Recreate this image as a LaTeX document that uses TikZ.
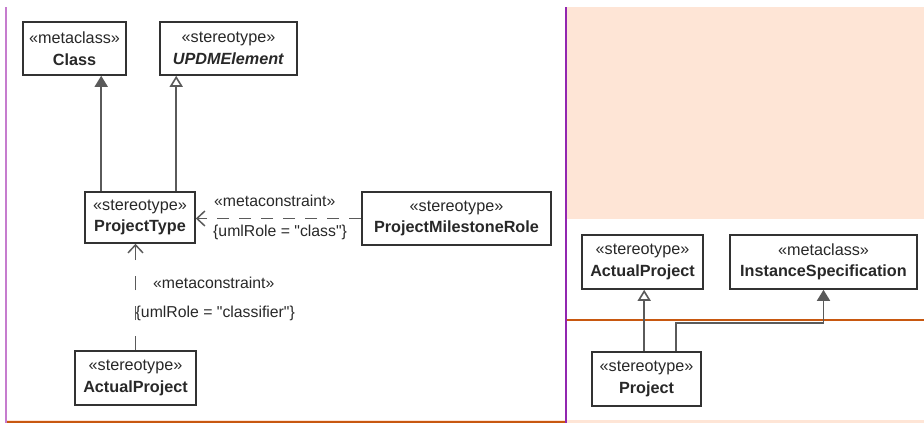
\documentclass[tikz,border=0pt]{standalone}
\usepackage{fontspec}
\setmainfont{Liberation Sans}
\usetikzlibrary{arrows.meta}

\definecolor{peach}{RGB}{254,229,214}
\definecolor{framelilac}{RGB}{198,124,206}
\definecolor{framepurple}{RGB}{146,38,176}
\definecolor{rust}{RGB}{200,88,16}
\definecolor{boxline}{RGB}{50,50,50}
\definecolor{wire}{RGB}{90,90,90}
\definecolor{stxt}{RGB}{40,40,40}

\tikzset{
  umlbox/.style={draw=boxline, line width=1.6pt, fill=white, align=center,
    inner sep=0pt, text=stxt, font=\fontsize{16.2}{21.5}\selectfont},
  lbl/.style={inner sep=0pt, text=stxt, font=\fontsize{15.8}{18}\selectfont},
  genopen/.style={draw=wire, line width=1.6pt,
    -{Triangle[open, length=11pt, width=13pt, fill=white]}},
  genfill/.style={draw=wire, line width=1.6pt,
    -{Triangle[length=11pt, width=13pt]}},
  depline/.style={draw=wire, line width=1.5pt,
    -{Straight Barb[length=8pt, width=15pt]}},
}

\begin{document}
\begin{tikzpicture}[x=1pt, y=-1pt]
\useasboundingbox (0,0) rectangle (924,423);

% panel backgrounds and frames
\fill[peach] (567,7) rectangle (924,219);
\fill[peach] (6,419.5) rectangle (924,423);
\draw[rust, line width=2pt] (6,422) -- (566,422);
\draw[rust, line width=2pt] (567,319.5) -- (924,319.5);
\draw[framelilac, line width=2pt] (6,7) -- (6,423);
\draw[framepurple, line width=2pt] (566,7) -- (566,423);

% left panel classes
\node[umlbox, minimum width=103, minimum height=53] (cls) at (74.5,48.5)
  {«metaclass»\\\textbf{Class}};
\node[umlbox, minimum width=137, minimum height=53] (updm) at (228.5,48.5)
  {«stereotype»\\\textbf{\textit{UPDMElement}}};
\node[umlbox, minimum width=110, minimum height=51] (ptype) at (140,217.5)
  {«stereotype»\\\textbf{ProjectType}};
\node[umlbox, minimum width=189, minimum height=53] (pmr) at (456.5,218.5)
  {«stereotype»\\\textbf{ProjectMilestoneRole}};
\node[umlbox, minimum width=121, minimum height=54] (apl) at (135.5,378)
  {«stereotype»\\\textbf{ActualProject}};

% right panel classes
\node[umlbox, minimum width=121, minimum height=54] (apr) at (642.5,262)
  {«stereotype»\\\textbf{ActualProject}};
\node[umlbox, minimum width=187, minimum height=54] (inst) at (823.5,262)
  {«metaclass»\\\textbf{InstanceSpecification}};
\node[umlbox, minimum width=109, minimum height=54] (proj) at (646.5,379)
  {«stereotype»\\\textbf{Project}};

% generalizations and extensions
\draw[genfill] ([xshift=17]ptype.north west) -- ([xshift=17]ptype.north west |- cls.south);
\draw[genopen] ([xshift=92]ptype.north west) -- ([xshift=92]ptype.north west |- updm.south);
\draw[genopen] ([xshift=53]proj.north west) -- ([xshift=53]proj.north west |- apr.south);
\draw[genfill] ([xshift=85]proj.north west) |- ([yshift=-33]inst.south) -- (inst.south);

% metaconstraints
\draw[depline, dash pattern=on 12pt off 10pt] (pmr.west) -- (pmr.west -| ptype.east);
\node[lbl, anchor=west] (mc1) at (214,201) {«metaconstraint»};
\node[lbl, anchor=west] (role1) at (213,232)
  {\{umlRole = \textquotedbl class\textquotedbl\}};

\draw[depline, dash pattern=on 14pt off 16pt] (apl.north) -- (apl.north |- ptype.south);
\node[lbl, anchor=west] (mc2) at (153,283) {«metaconstraint»};
\node[lbl, anchor=west] (role2) at (135.5,313)
  {\{umlRole = \textquotedbl classifier\textquotedbl\}};

\end{tikzpicture}
\end{document}
